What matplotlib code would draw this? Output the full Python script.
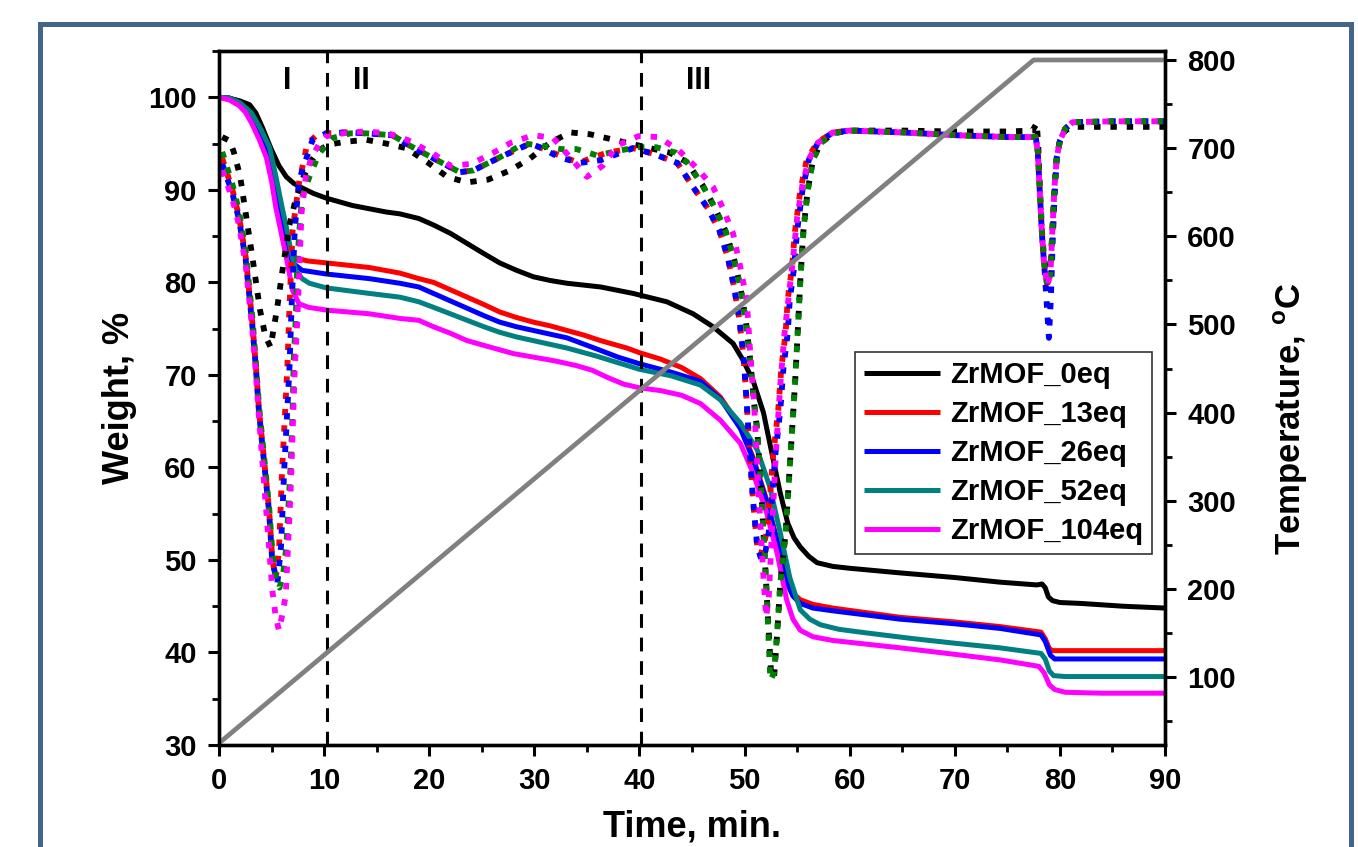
import matplotlib
matplotlib.use('Agg')
import matplotlib.pyplot as plt
from matplotlib.patches import Rectangle
from matplotlib.ticker import MultipleLocator

plt.rcParams['font.family'] = ['Liberation Sans', 'DejaVu Sans']
plt.rcParams['font.weight'] = 'bold'
plt.rcParams['mathtext.fontset'] = 'custom'
plt.rcParams['mathtext.rm'] = 'Liberation Sans:bold'
plt.rcParams['mathtext.bf'] = 'Liberation Sans:bold'

labels = ['ZrMOF_0eq', 'ZrMOF_13eq', 'ZrMOF_26eq', 'ZrMOF_52eq', 'ZrMOF_104eq']
tga_colors = ['#000000', '#ff0000', '#0000ff', '#008080', '#ff00ff']
dtg_colors = ['#000000', '#ff0000', '#0000ff', '#008000', '#ff00ff']

# weight curves (TGA), %
t_w0 = [0, 1, 2, 2.9, 3.5, 4.1, 4.6, 5.0, 5.7, 6.4, 7.1, 7.9, 9.0, 10.2, 12.7, 15.9, 17.2, 19.0, 20.4, 22.0,
        23.6, 25.2, 26.7, 28.3, 29.9, 31.5, 33.1, 36.3, 39.4, 42.6, 45.1, 47.0, 48.9, 49.8, 50.8, 51.8, 52.6,
        53.4, 54.1, 54.7, 55.3, 56.1, 56.9, 58.4, 60.0, 64.8, 70.0, 74.3, 77.8, 78.3, 78.6, 78.9, 79.3, 80.0,
        82, 86, 90]
w0 = [100, 99.9, 99.6, 99.2, 98.3, 96.8, 95.4, 94.3, 92.6, 91.4, 90.7, 90.2, 89.6, 89.1, 88.3, 87.6, 87.4, 86.9,
      86.2, 85.3, 84.2, 83.1, 82.1, 81.3, 80.6, 80.2, 79.9, 79.5, 78.8, 77.9, 76.6, 75.2, 73.4, 71.7, 69.4, 65.9,
      61.5, 57.2, 54.0, 52.4, 51.4, 50.4, 49.7, 49.3, 49.1, 48.6, 48.1, 47.6, 47.3, 47.4, 47.0, 46.0, 45.6, 45.4,
      45.3, 45.0, 44.8]

t_w13 = [0, 1, 2, 3, 4, 4.8, 5.4, 6.0, 6.5, 7.0, 7.3, 8.5, 10.2, 14.3, 17.2, 19.0, 20.4, 22.0, 23.6, 25.2, 26.7,
         28.3, 29.9, 31.5, 33.1, 34.7, 36.3, 38.8, 40.0, 42.0, 44.0, 45.8, 47.7, 49.6, 50.8, 52.1, 53.1, 54.0,
         54.6, 55.3, 56.5, 58.4, 64.8, 70.0, 74.3, 78.2, 78.6, 79.0, 79.3, 82, 90]
w13 = [100, 99.9, 99.4, 98.0, 96.0, 93.8, 90.5, 86.5, 84.0, 82.9, 82.6, 82.3, 82.1, 81.6, 81.0, 80.4, 80.0, 79.2,
       78.4, 77.6, 76.8, 76.2, 75.7, 75.3, 74.8, 74.3, 73.7, 72.9, 72.4, 71.7, 70.8, 69.6, 67.6, 64.4, 61.1, 56.5,
       52.1, 47.8, 46.4, 45.7, 45.2, 44.8, 43.8, 43.3, 42.8, 42.2, 41.5, 40.4, 40.2, 40.2, 40.2]

t_w26 = [0, 1, 2, 3, 4, 4.8, 5.4, 6.0, 6.5, 7.0, 7.9, 10.2, 14.3, 17.2, 19.0, 20.4, 22.0, 23.6, 25.2, 26.7, 28.3,
         29.9, 31.5, 33.1, 35.7, 38.0, 40.0, 43.0, 45.8, 47.7, 49.6, 50.8, 52.1, 53.1, 54.0, 54.6, 55.3, 56.5,
         58.4, 64.8, 70.0, 74.3, 78.2, 78.6, 79.1, 79.5, 82, 90]
w26 = [100, 99.9, 99.4, 98.0, 96.0, 93.8, 90.3, 86.2, 83.5, 82.1, 81.3, 80.9, 80.4, 79.9, 79.5, 78.8, 78.0, 77.2,
       76.4, 75.7, 75.2, 74.8, 74.4, 74.0, 72.9, 71.9, 71.2, 70.3, 69.3, 67.4, 64.2, 60.9, 56.3, 52.0, 47.6, 46.1,
       45.3, 44.8, 44.5, 43.6, 43.1, 42.6, 41.9, 41.2, 39.7, 39.3, 39.3, 39.3]

t_w52 = [0, 1, 2, 3.1, 4.0, 4.8, 5.4, 6.0, 6.4, 6.7, 7.0, 7.3, 7.9, 8.6, 10.2, 14.3, 17.2, 19.0, 20.4, 22.0, 23.6,
         25.2, 26.7, 28.3, 29.9, 31.5, 33.1, 36.0, 40.0, 43.0, 45.8, 47.7, 49.6, 51.2, 52.4, 53.4, 54.3, 55.3,
         56.2, 57.2, 59.0, 61.7, 66.0, 70.0, 74.3, 78.2, 78.6, 79.0, 79.4, 80.5, 90]
w52 = [100, 99.9, 99.4, 98.3, 96.5, 94.6, 91.5, 88.1, 86.0, 84.2, 82.6, 81.3, 80.4, 79.9, 79.4, 78.8, 78.4, 77.9,
       77.3, 76.6, 75.9, 75.2, 74.6, 74.1, 73.7, 73.3, 72.9, 72.0, 70.6, 69.9, 68.9, 67.3, 64.8, 61.9, 57.9, 52.9,
       48.1, 44.6, 43.6, 43.0, 42.5, 42.1, 41.5, 41.0, 40.5, 39.9, 39.3, 38.0, 37.5, 37.4, 37.4]

t_w104 = [0, 1, 1.9, 2.5, 3.1, 3.8, 4.5, 5.0, 5.4, 5.9, 6.4, 7.0, 7.6, 8.5, 10.2, 14.3, 17.2, 19.0, 20.4, 22.0,
          23.6, 26.1, 28.0, 30.0, 32.0, 34.0, 35.5, 37.0, 38.5, 40.0, 42.0, 44.0, 45.8, 47.7, 49.6, 50.8, 52.1,
          53.1, 54.0, 54.6, 55.3, 56.5, 58.4, 64.8, 70.0, 74.3, 78.0, 78.5, 79.0, 79.5, 80.5, 84, 90]
w104 = [100, 99.7, 99.1, 98.4, 97.2, 95.5, 93.5, 90.9, 88.1, 85.4, 82.7, 79.1, 77.7, 77.3, 77.0, 76.6, 76.1, 75.9,
        75.2, 74.5, 73.7, 72.9, 72.3, 71.9, 71.5, 71.0, 70.5, 69.7, 69.0, 68.6, 68.3, 67.8, 66.9, 65.1, 62.6, 59.4,
        55.1, 50.7, 45.7, 43.6, 42.4, 41.7, 41.3, 40.5, 39.8, 39.2, 38.5, 37.8, 36.5, 36.0, 35.7, 35.6, 35.6]

# derivative curves (DTG), drawn in weight-axis units
t_d0 = [0.3, 1.0, 1.4, 2.0, 2.6, 3.2, 3.9, 4.4, 4.9, 5.5, 6.1, 6.7, 7.3, 8.0, 8.7, 9.5, 10.5, 12.1, 14.0, 15.9,
        17.8, 19.8, 21.7, 23.6, 25.6, 27.7, 29.6, 31.5, 33.4, 35.3, 37.2, 39.1, 41.0, 42.9, 44.5, 46.0, 47.2, 48.2,
        49.0, 49.6, 50.1, 50.5, 50.9, 51.2, 51.6, 52.1, 52.5, 52.8, 53.1, 53.4, 53.9, 54.2, 54.5, 54.8, 55.1, 55.3,
        55.6, 56.0, 56.5, 57.2, 58.4, 60.0, 65.0, 70.0, 75.0, 77.4, 77.8, 77.95, 78.1, 78.3, 78.5, 78.8, 79.1,
        79.3, 79.5, 79.7, 80.0, 80.5, 81.2, 85.0, 90.0]
d0 = [95.7, 95.3, 94.1, 91.5, 87.0, 82.5, 77.0, 74.2, 73.0, 77.0, 81.8, 86.2, 89.0, 91.3, 93.0, 94.3, 94.9, 95.2,
      95.4, 95.0, 94.5, 93.0, 91.4, 90.8, 91.1, 92.1, 93.4, 95.1, 96.2, 96.0, 95.5, 95.0, 94.5, 94.0, 93.0, 90.5,
      88.0, 85.5, 82.5, 79.5, 76.0, 72.0, 67.0, 64.0, 57.2, 46.4, 38.1, 37.2, 42.1, 47.5, 52.9, 58.3, 63.7, 69.1,
      75.6, 80.2, 85.6, 89.9, 93.2, 95.0, 96.1, 96.4, 96.4, 96.3, 96.3, 96.4, 97.2, 94.5, 90.0, 85.5, 82.5, 80.5,
      81.5, 86.0, 90.5, 93.5, 95.3, 96.4, 96.8, 96.8, 96.8]

t_d13 = [0.3, 1.27, 1.9, 2.54, 3.17, 3.5, 3.8, 4.28, 4.76, 5.07, 5.4, 5.7, 6.0, 6.2, 6.5, 6.7, 7.0, 7.6, 8.4, 9.2,
         10.2, 12.1, 14.0, 16.5, 18.1, 20.4, 22.9, 24.2, 26.7, 29.6, 30.5, 32.4, 34.3, 35.3, 36.9, 39.4, 41.3, 43.6,
         45.1, 46.5, 47.6, 48.4, 49.0, 49.5, 49.9, 50.2, 50.5, 50.8, 51.2, 51.5, 51.8, 52.1, 52.4, 52.7, 53.2, 53.5,
         53.9, 54.1, 54.5, 54.8, 55.3, 55.9, 56.9, 58.4, 60.0, 65.0, 70.0, 75.0, 77.7, 77.9, 78.1, 78.3, 78.5, 78.8,
         79.1, 79.3, 79.5, 79.7, 80.0, 80.5, 81.2, 85.0, 90.0]
d13 = [93.4, 90.0, 87.1, 82.7, 75.6, 71.0, 66.2, 60.8, 55.4, 50.0, 48.0, 51.0, 59.8, 64.1, 70.8, 77.3, 85.6, 90.7,
       95.0, 95.8, 96.1, 96.2, 96.1, 95.9, 94.8, 93.4, 91.9, 92.1, 93.5, 95.0, 94.6, 93.7, 92.9, 93.4, 94.0, 94.5,
       93.9, 92.9, 90.3, 88.0, 85.6, 82.7, 79.5, 76.0, 72.0, 67.0, 61.5, 56.5, 51.5, 50.5, 51.5, 53.0, 56.5, 61.1,
       66.2, 70.8, 74.5, 78.1, 81.5, 85.6, 89.9, 93.2, 95.1, 96.2, 96.4, 96.2, 95.9, 95.7, 95.7, 94.0, 89.5, 85.0,
       82.0, 79.6, 81.0, 86.0, 90.5, 93.5, 95.3, 96.6, 97.3, 97.4, 97.4]

t_d26 = [0.3, 1.27, 1.9, 2.54, 3.17, 3.5, 3.8, 4.28, 4.76, 5.07, 5.55, 5.9, 6.2, 6.4, 6.7, 6.9, 7.2, 7.6, 8.9, 10.2,
         12.1, 14.0, 16.5, 18.1, 20.4, 22.9, 24.2, 26.7, 29.6, 30.5, 32.4, 34.3, 36.3, 39.4, 41.3, 43.6, 45.1, 46.5,
         47.6, 48.4, 49.0, 49.5, 49.9, 50.2, 50.5, 50.8, 51.2, 51.6, 52.0, 52.3, 52.6, 52.9, 53.4, 53.7, 54.1, 54.3,
         54.7, 55.0, 55.5, 56.1, 57.0, 58.4, 60.0, 65.0, 70.0, 75.0, 77.7, 77.9, 78.1, 78.3, 78.5, 78.7, 78.95,
         79.15, 79.3, 79.5, 79.7, 80.0, 80.5, 81.2, 85.0, 90.0]
d26 = [92.8, 89.6, 86.8, 82.4, 75.3, 70.8, 66.0, 60.6, 55.2, 49.8, 47.5, 51.5, 59.8, 64.1, 70.8, 77.3, 85.6, 91.0,
       95.4, 96.1, 96.2, 96.1, 95.9, 94.8, 93.4, 91.9, 92.1, 93.5, 95.0, 94.6, 93.5, 92.9, 93.2, 94.5, 93.9, 92.9,
       90.3, 88.0, 85.6, 82.7, 79.5, 76.0, 72.0, 67.0, 61.5, 56.5, 51.5, 50.0, 51.0, 53.0, 56.5, 61.1, 66.2, 70.8,
       74.5, 78.1, 81.5, 85.6, 89.9, 93.2, 95.1, 96.2, 96.4, 96.2, 95.9, 95.7, 95.7, 94.0, 89.5, 85.0, 82.0, 78.5,
       74.0, 78.5, 84.0, 89.5, 93.5, 95.3, 96.6, 97.3, 97.4, 97.4]

t_d52 = [0.3, 1.27, 1.9, 2.54, 3.17, 3.5, 3.8, 4.28, 4.76, 5.1, 5.45, 5.75, 6.1, 6.4, 6.8, 7.0, 7.1, 7.3, 7.4, 7.6,
         7.9, 8.6, 9.5, 10.8, 12.5, 14.0, 16.5, 18.1, 20.4, 22.9, 24.2, 26.7, 29.0, 30.5, 32.5, 34.0, 36.0, 37.9,
         39.8, 41.6, 43.5, 44.5, 46.0, 47.2, 48.2, 49.0, 49.6, 50.1, 50.5, 50.9, 51.2, 51.6, 52.1, 52.45, 52.8,
         53.1, 53.4, 53.9, 54.2, 54.5, 54.8, 55.1, 55.3, 55.6, 56.0, 56.5, 57.2, 58.4, 60.0, 65.0, 70.0, 75.0, 77.7,
         77.9, 78.1, 78.3, 78.5, 78.8, 79.1, 79.3, 79.5, 79.7, 80.0, 80.5, 81.2, 85.0, 90.0]
d52 = [94.1, 90.6, 87.7, 83.3, 76.2, 71.5, 66.7, 61.2, 55.8, 50.5, 47.5, 47.0, 48.5, 51.4, 60.0, 66.0, 71.6, 76.0,
       80.6, 85.0, 89.2, 91.4, 93.9, 95.6, 96.1, 96.1, 95.9, 94.8, 93.4, 91.9, 92.1, 93.5, 95.0, 94.8, 94.4, 94.4,
       93.7, 94.2, 94.6, 94.6, 94.0, 93.0, 90.5, 88.0, 85.5, 82.5, 79.5, 76.0, 72.0, 67.0, 64.0, 57.2, 46.4, 37.0,
       37.8, 42.1, 47.5, 52.9, 58.3, 63.7, 69.1, 75.6, 80.2, 85.6, 89.9, 93.2, 95.0, 96.1, 96.4, 96.2, 95.9, 95.7,
       95.7, 94.0, 89.5, 85.0, 82.0, 79.6, 81.0, 86.0, 90.5, 93.5, 95.3, 96.6, 97.3, 97.4, 97.4]

t_d104 = [0.3, 1.27, 1.9, 2.54, 3.17, 3.5, 3.8, 4.1, 4.76, 5.07, 5.4, 5.7, 6.0, 6.35, 6.8, 7.2, 7.45, 7.65, 7.85,
          8.25, 8.8, 9.5, 10.2, 12.4, 14.0, 16.1, 17.9, 20.4, 22.0, 24.0, 26.1, 27.8, 29.9, 31.8, 33.4, 35.0, 36.5,
          37.9, 39.9, 41.8, 43.7, 45.5, 47.0, 47.9, 48.9, 49.6, 50.2, 50.5, 50.9, 51.2, 51.5, 51.8, 52.05, 52.3,
          52.6, 53.0, 53.4, 53.8, 54.2, 54.6, 55.0, 55.5, 56.1, 57.0, 58.4, 60.0, 65.0, 70.0, 75.0, 77.7, 77.9, 78.1,
          78.3, 78.5, 78.8, 79.1, 79.3, 79.5, 79.7, 80.0, 80.5, 81.2, 85.0, 90.0]
d104 = [92.1, 89.0, 86.2, 81.8, 74.8, 70.2, 65.4, 61.0, 51.4, 46.7, 43.8, 42.4, 44.0, 46.2, 57.2, 70.5, 76.0, 82.0,
        87.5, 91.4, 93.5, 94.9, 95.8, 96.2, 96.3, 96.1, 95.4, 93.9, 92.6, 92.8, 94.0, 95.1, 95.9, 95.6, 93.5, 91.4,
        92.6, 94.8, 95.8, 95.7, 94.3, 92.3, 90.3, 88.1, 85.3, 81.6, 78.1, 73.0, 67.0, 60.5, 54.0, 48.0, 43.8, 46.0,
        53.0, 62.0, 69.0, 74.5, 78.5, 82.5, 87.0, 90.5, 93.3, 95.1, 96.2, 96.4, 96.2, 95.9, 95.7, 95.7, 94.0, 89.5,
        85.0, 82.0, 79.6, 81.0, 86.0, 90.5, 93.5, 95.3, 96.6, 97.3, 97.4, 97.4]

# furnace temperature programme
t_temp = [0, 77.5, 90]
temp = [25, 800, 800]

stage_pos = [10.3, 40.1]
stage_names = ['I', 'II', 'III']
stage_x = [6.5, 13.5, 45.6]

tga = [(t_w0, w0), (t_w13, w13), (t_w26, w26), (t_w52, w52), (t_w104, w104)]
dtg = [(t_d0, d0), (t_d13, d13), (t_d26, d26), (t_d52, d52), (t_d104, d104)]

fig = plt.figure(figsize=(13.58, 8.47), dpi=100)
ax = fig.add_axes([0.1613, 0.1204, 0.6966, 0.8194])
ax2 = ax.twinx()

handles = []
for (t, w), c, lab in zip(tga, tga_colors, labels):
    h, = ax.plot(t, w, color=c, lw=3.6, label=lab, solid_capstyle='butt')
    handles.append(h)

for (t, d), c in zip(dtg, dtg_colors):
    ax.plot(t, d, color=c, lw=4.2, linestyle=(0, (1.1, 1.7)), dash_capstyle='butt')

for x in stage_pos:
    ax.axvline(x, color='k', lw=2.2, linestyle=(0, (4.5, 3.2)))
for x, s in zip(stage_x, stage_names):
    ax.text(x, 101.8, s, ha='center', va='center', fontsize=22, fontweight='bold')

ax2.plot(t_temp, temp, color='#808080', lw=3.4, solid_capstyle='butt')

ax.set_xlim(0, 90)
ax.set_ylim(30, 105)
ax2.set_ylim(22.9, 810.2)
ax.xaxis.set_major_locator(MultipleLocator(10))
ax.xaxis.set_minor_locator(MultipleLocator(5))
ax.yaxis.set_major_locator(MultipleLocator(10))
ax.yaxis.set_minor_locator(MultipleLocator(5))
ax2.set_yticks(range(100, 801, 100))
ax2.yaxis.set_minor_locator(MultipleLocator(50))

for a in (ax, ax2):
    for sp in a.spines.values():
        sp.set_linewidth(2.4)
    a.tick_params(which='major', length=8, width=2.2, direction='out', labelsize=21, pad=8)
    a.tick_params(which='minor', length=5, width=2.0, direction='out')

ax.set_xlabel('Time, min.', fontsize=26, fontweight='bold', labelpad=10)
ax.set_ylabel('Weight, %', fontsize=26, fontweight='bold', labelpad=8)
ax2.set_ylabel(r'Temperature, $^{\mathbf{o}}$C', fontsize=25, fontweight='bold', labelpad=26)
ax2.yaxis.label.set_y(0.47)

leg = ax2.legend(handles, labels, loc='upper right', bbox_to_anchor=(0.986, 0.566), fontsize=21,
                 frameon=True, fancybox=False, edgecolor='#333333', framealpha=1,
                 handlelength=2.6, handletextpad=0.35, labelspacing=0.38, borderpad=0.3,
                 borderaxespad=0)
leg.get_frame().set_linewidth(1.2)

fig.add_artist(Rectangle((0.0291, -0.1), 0.9654, 1.0711, transform=fig.transFigure, fill=False,
                         edgecolor='#44648e', lw=3.6, clip_on=False))

fig.savefig('out.png', dpi=100)
